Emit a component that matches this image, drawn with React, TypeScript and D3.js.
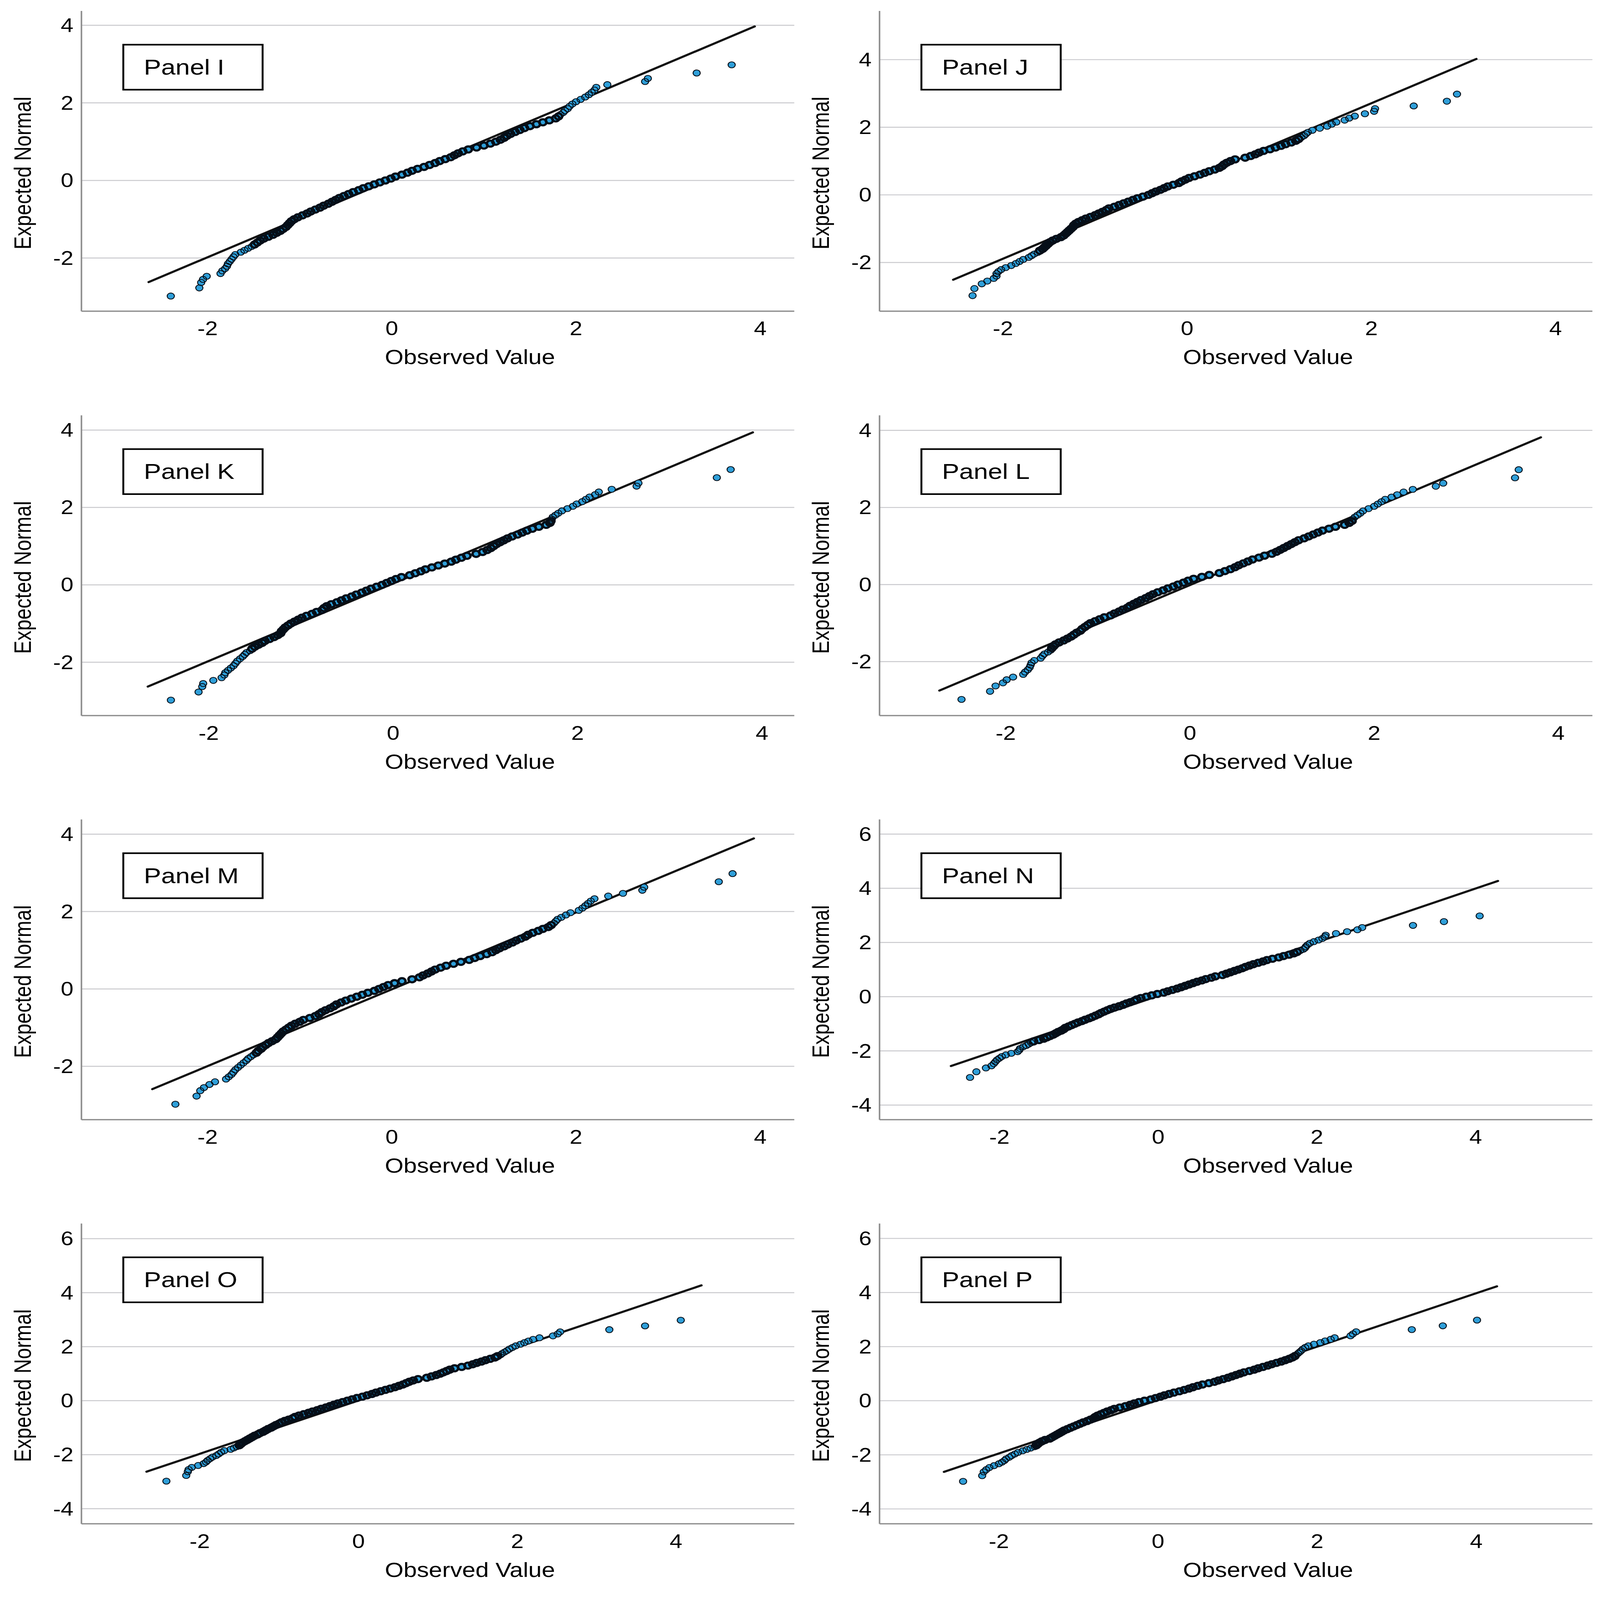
import React, { useEffect } from 'react';
import * as d3 from 'd3';

// Q-Q plots, panels I to P. All panels share the same expected normal quantiles.
const panelNames = ['Panel I', 'Panel J', 'Panel K', 'Panel L', 'Panel M', 'Panel N', 'Panel O', 'Panel P'];

const expectedNormal = [
  -2.98, -2.77, -2.63, -2.55, -2.47, -2.40, -2.33, -2.27, -2.21, -2.15, -2.09, -2.03, -1.97, -1.91, -1.85, -1.80, -1.75, -1.70,
  -1.65, -1.60, -1.55, -1.50, -1.45, -1.40, -1.35, -1.30, -1.25, -1.20, -1.15, -1.10, -1.05, -1.00, -0.95, -0.90, -0.85,
  -0.80, -0.75, -0.70, -0.65, -0.60, -0.55, -0.50, -0.45, -0.40, -0.35, -0.30, -0.25, -0.20, -0.15, -0.10, -0.05,
  0,
  0.05, 0.10, 0.15, 0.20, 0.25, 0.30, 0.35, 0.40, 0.45, 0.50, 0.55, 0.60, 0.65, 0.70, 0.75, 0.80, 0.85,
  0.90, 0.95, 1.00, 1.05, 1.10, 1.15, 1.20, 1.25, 1.30, 1.35, 1.40, 1.45, 1.50, 1.55, 1.60, 1.65,
  1.70, 1.75, 1.80, 1.85, 1.91, 1.97, 2.03, 2.09, 2.15, 2.21, 2.27, 2.33, 2.40, 2.47, 2.55, 2.63, 2.77, 2.98,
];

const observedI = [
  -2.40, -2.09, -2.07, -2.05, -2.01, -1.86, -1.84, -1.81, -1.79, -1.78, -1.76, -1.74, -1.72, -1.70, -1.64, -1.60, -1.56, -1.52,
  -1.49, -1.46, -1.43, -1.39, -1.34, -1.29, -1.25, -1.21, -1.18, -1.15, -1.13, -1.11, -1.09, -1.06, -1.02, -0.97, -0.92,
  -0.88, -0.83, -0.78, -0.74, -0.69, -0.65, -0.61, -0.57, -0.52, -0.47, -0.42, -0.36, -0.31, -0.25, -0.19, -0.13,
  -0.07,
  -0.01, 0.04, 0.11, 0.17, 0.22, 0.28, 0.35, 0.41, 0.47, 0.52, 0.58, 0.64, 0.68, 0.72, 0.77, 0.83, 0.92,
  1.00, 1.07, 1.13, 1.18, 1.22, 1.25, 1.29, 1.34, 1.39, 1.44, 1.50, 1.57, 1.64, 1.71, 1.78, 1.81,
  1.83, 1.86, 1.88, 1.91, 1.93, 1.96, 2.00, 2.05, 2.10, 2.14, 2.17, 2.20, 2.22, 2.34, 2.75, 2.78, 3.31, 3.69,
];

const observedJ = [
  -2.33, -2.31, -2.23, -2.17, -2.10, -2.07, -2.07, -2.05, -2.02, -1.97, -1.91, -1.86, -1.82, -1.78, -1.72, -1.69, -1.66, -1.62,
  -1.60, -1.57, -1.55, -1.53, -1.51, -1.49, -1.46, -1.42, -1.37, -1.34, -1.32, -1.30, -1.28, -1.26, -1.24, -1.23, -1.21,
  -1.18, -1.14, -1.10, -1.05, -1.00, -0.96, -0.92, -0.88, -0.85, -0.79, -0.74, -0.69, -0.64, -0.59, -0.54, -0.48,
  -0.42,
  -0.38, -0.34, -0.29, -0.25, -0.21, -0.15, -0.09, -0.06, -0.02, 0.02, 0.08, 0.14, 0.19, 0.24, 0.30, 0.35, 0.38,
  0.40, 0.43, 0.47, 0.52, 0.63, 0.69, 0.74, 0.78, 0.83, 0.90, 0.96, 1.02, 1.07, 1.13, 1.18, 1.21,
  1.24, 1.27, 1.29, 1.31, 1.36, 1.44, 1.52, 1.57, 1.62, 1.71, 1.76, 1.82, 1.93, 2.03, 2.04, 2.46, 2.82, 2.93,
];

const observedK = [
  -2.41, -2.11, -2.07, -2.06, -1.95, -1.86, -1.83, -1.82, -1.79, -1.76, -1.73, -1.71, -1.69, -1.66, -1.63, -1.61, -1.59, -1.55,
  -1.53, -1.50, -1.46, -1.42, -1.39, -1.34, -1.29, -1.25, -1.22, -1.21, -1.19, -1.17, -1.14, -1.11, -1.07, -1.03, -0.99,
  -0.94, -0.88, -0.83, -0.77, -0.75, -0.72, -0.67, -0.61, -0.56, -0.51, -0.45, -0.40, -0.34, -0.29, -0.24, -0.18,
  -0.12,
  -0.07, -0.02, 0.03, 0.09, 0.18, 0.24, 0.30, 0.35, 0.42, 0.49, 0.56, 0.63, 0.68, 0.74, 0.80, 0.90, 0.97,
  1.02, 1.06, 1.09, 1.12, 1.16, 1.20, 1.24, 1.29, 1.35, 1.40, 1.45, 1.51, 1.58, 1.66, 1.70, 1.71,
  1.72, 1.73, 1.76, 1.79, 1.83, 1.89, 1.95, 1.99, 2.05, 2.09, 2.13, 2.19, 2.23, 2.37, 2.64, 2.66, 3.51, 3.66,
];

const observedL = [
  -2.48, -2.17, -2.11, -2.03, -1.99, -1.92, -1.81, -1.79, -1.76, -1.74, -1.73, -1.72, -1.69, -1.62, -1.60, -1.58, -1.54, -1.51,
  -1.50, -1.48, -1.46, -1.42, -1.37, -1.33, -1.29, -1.26, -1.23, -1.19, -1.17, -1.14, -1.11, -1.08, -1.03, -0.98, -0.93,
  -0.86, -0.82, -0.77, -0.73, -0.68, -0.65, -0.61, -0.57, -0.53, -0.48, -0.44, -0.40, -0.35, -0.29, -0.24, -0.18,
  -0.13,
  -0.07, -0.02, 0.04, 0.13, 0.21, 0.32, 0.38, 0.44, 0.49, 0.53, 0.58, 0.63, 0.68, 0.75, 0.81, 0.89, 0.94,
  0.98, 1.02, 1.06, 1.10, 1.14, 1.18, 1.24, 1.29, 1.34, 1.39, 1.44, 1.51, 1.58, 1.68, 1.73, 1.76,
  1.77, 1.79, 1.82, 1.85, 1.88, 1.94, 2.00, 2.04, 2.08, 2.12, 2.19, 2.25, 2.32, 2.42, 2.67, 2.75, 3.53, 3.57,
];

const observedM = [
  -2.35, -2.12, -2.08, -2.04, -1.98, -1.92, -1.80, -1.77, -1.74, -1.72, -1.70, -1.67, -1.64, -1.61, -1.58, -1.56, -1.53, -1.50,
  -1.47, -1.45, -1.42, -1.40, -1.37, -1.34, -1.30, -1.26, -1.24, -1.22, -1.20, -1.18, -1.15, -1.12, -1.09, -1.05, -1.00,
  -0.96, -0.89, -0.83, -0.79, -0.76, -0.72, -0.67, -0.63, -0.60, -0.55, -0.50, -0.44, -0.38, -0.32, -0.26, -0.19,
  -0.14,
  -0.09, -0.04, 0.03, 0.11, 0.22, 0.30, 0.34, 0.39, 0.43, 0.47, 0.53, 0.59, 0.67, 0.75, 0.84, 0.90, 0.96,
  1.03, 1.09, 1.13, 1.17, 1.22, 1.26, 1.31, 1.35, 1.40, 1.45, 1.48, 1.53, 1.59, 1.64, 1.70, 1.73,
  1.76, 1.78, 1.80, 1.84, 1.89, 1.94, 2.03, 2.07, 2.10, 2.13, 2.16, 2.20, 2.35, 2.51, 2.72, 2.74, 3.55, 3.70,
];

const observedN = [
  -2.37, -2.29, -2.17, -2.10, -2.07, -2.05, -2.03, -2.00, -1.97, -1.92, -1.85, -1.77, -1.75, -1.74, -1.70, -1.66, -1.63, -1.60,
  -1.57, -1.50, -1.44, -1.40, -1.36, -1.32, -1.29, -1.26, -1.22, -1.19, -1.17, -1.13, -1.09, -1.05, -1.01, -0.96, -0.92,
  -0.87, -0.83, -0.79, -0.75, -0.72, -0.68, -0.64, -0.60, -0.55, -0.49, -0.44, -0.40, -0.35, -0.30, -0.27, -0.22,
  -0.15,
  -0.08, -0.01, 0.07, 0.12, 0.18, 0.24, 0.29, 0.34, 0.39, 0.44, 0.49, 0.55, 0.60, 0.67, 0.72, 0.81, 0.86,
  0.91, 0.96, 1.01, 1.06, 1.10, 1.15, 1.20, 1.26, 1.32, 1.37, 1.44, 1.52, 1.58, 1.65, 1.71, 1.75,
  1.79, 1.83, 1.85, 1.86, 1.88, 1.91, 1.96, 2.02, 2.07, 2.10, 2.11, 2.24, 2.38, 2.51, 2.57, 3.21, 3.60, 4.05,
];

const observedO = [
  -2.42, -2.17, -2.15, -2.14, -2.10, -2.02, -1.95, -1.92, -1.90, -1.87, -1.84, -1.79, -1.76, -1.73, -1.69, -1.61, -1.57, -1.53,
  -1.50, -1.48, -1.46, -1.43, -1.40, -1.37, -1.34, -1.31, -1.27, -1.24, -1.20, -1.17, -1.14, -1.10, -1.07, -1.04, -1.00,
  -0.97, -0.93, -0.88, -0.83, -0.80, -0.75, -0.69, -0.63, -0.58, -0.52, -0.47, -0.41, -0.36, -0.31, -0.26, -0.20,
  -0.14,
  -0.08, -0.02, 0.05, 0.11, 0.17, 0.22, 0.28, 0.34, 0.40, 0.46, 0.51, 0.56, 0.60, 0.64, 0.69, 0.75, 0.86,
  0.92, 0.98, 1.03, 1.07, 1.11, 1.15, 1.21, 1.30, 1.38, 1.44, 1.49, 1.55, 1.60, 1.66, 1.72, 1.75,
  1.79, 1.81, 1.84, 1.87, 1.90, 1.94, 1.98, 2.04, 2.09, 2.14, 2.20, 2.28, 2.45, 2.51, 2.54, 3.16, 3.61, 4.06,
];

const observedP = [
  -2.45, -2.21, -2.19, -2.16, -2.12, -2.06, -2.00, -1.96, -1.93, -1.91, -1.87, -1.84, -1.80, -1.76, -1.70, -1.65, -1.60, -1.55,
  -1.53, -1.51, -1.49, -1.46, -1.42, -1.36, -1.33, -1.30, -1.27, -1.24, -1.21, -1.18, -1.14, -1.10, -1.06, -1.02, -0.98,
  -0.94, -0.89, -0.85, -0.81, -0.79, -0.76, -0.72, -0.68, -0.64, -0.59, -0.55, -0.48, -0.41, -0.35, -0.30, -0.24,
  -0.17,
  -0.09, -0.03, 0.03, 0.08, 0.14, 0.20, 0.27, 0.33, 0.39, 0.44, 0.50, 0.56, 0.64, 0.71, 0.76, 0.82, 0.88,
  0.93, 0.98, 1.03, 1.08, 1.15, 1.21, 1.26, 1.32, 1.38, 1.43, 1.49, 1.55, 1.60, 1.65, 1.69, 1.72,
  1.74, 1.76, 1.78, 1.80, 1.82, 1.85, 1.89, 1.96, 2.04, 2.10, 2.17, 2.22, 2.42, 2.45, 2.49, 3.19, 3.58, 4.01,
];

const observedSeries = [observedI, observedJ, observedK, observedL, observedM, observedN, observedO, observedP];

// axis ranges per panel [min, max]
const xDomains = [
  [-3.37, 4.37], [-3.34, 4.40], [-3.38, 4.35], [-3.37, 4.37],
  [-3.37, 4.37], [-3.51, 5.47], [-3.49, 5.49], [-3.50, 5.46],
];
const yDomains = [
  [-3.37, 4.37], [-3.44, 5.44], [-3.38, 4.38], [-3.40, 4.39],
  [-3.38, 4.38], [-4.54, 6.54], [-4.56, 6.56], [-4.55, 6.55],
];

const xTicks = [-2, 0, 2, 4];
const yTicksSmall = [-2, 0, 2, 4];
const yTicksLarge = [-4, -2, 0, 2, 4, 6];
const yTickSets = [yTicksSmall, yTicksSmall, yTicksSmall, yTicksSmall, yTicksSmall, yTicksLarge, yTicksLarge, yTicksLarge];

// reference line ends: [observed1, expected1, observed2, expected2]
const refLines = [
  [-2.64, -2.62, 3.94, 3.97],
  [-2.54, -2.51, 3.14, 4.02],
  [-2.66, -2.63, 3.90, 3.94],
  [-2.72, -2.75, 3.81, 3.82],
  [-2.60, -2.59, 3.93, 3.89],
  [-2.61, -2.56, 4.28, 4.27],
  [-2.67, -2.63, 4.32, 4.27],
  [-2.69, -2.63, 4.26, 4.23],
];

// the middle of the distribution is heavily overplotted in the original,
// so markers there are drawn with a heavy outline
const overplotted = (e: number) => Math.abs(e) < 1.68;

// drawing is laid out in the reference's 4204 x 4977 pixel space, then fitted to the window
const W = 4204;
const H = 4977;
const colX = [214, 2311];
const rowY = [34, 1292, 2549, 3806];
const plotW = 1873;
const plotH = 934;
const font = '"Liberation Sans", Arial, Helvetica, sans-serif';

const QQPanel = ({ idx }: { idx: number }) => {
  const left = colX[idx % 2];
  const top = rowY[Math.floor(idx / 2)];
  const x = d3.scaleLinear().domain(xDomains[idx]).range([left, left + plotW]);
  const y = d3.scaleLinear().domain(yDomains[idx]).range([top + plotH, top]);
  const pts = observedSeries[idx].map((v, i) => [v, expectedNormal[i]] as [number, number]);
  const ln = refLines[idx];
  const linePath = d3.line<number[]>()
    .x((d) => x(d[0]))
    .y((d) => y(d[1]))([[ln[0], ln[1]], [ln[2], ln[3]]]);
  const bottom = top + plotH;

  return (
    <g>
      {yTickSets[idx].map((t) => (
        <line key={'g' + t} x1={left} x2={left + plotW} y1={y(t)} y2={y(t)} stroke="#c9c9cd" strokeWidth={3} />
      ))}
      <line x1={left} x2={left} y1={top} y2={bottom} stroke="#8c8c8c" strokeWidth={4} />
      <line x1={left} x2={left + plotW} y1={bottom} y2={bottom} stroke="#8c8c8c" strokeWidth={4} />
      <path d={linePath || ''} stroke="#111" strokeWidth={6.5} fill="none" strokeLinecap="round" />
      {pts.map((d, i) => (
        <circle key={'f' + i} cx={x(d[0])} cy={y(d[1])} r={9.5} fill="#2f9fd9" />
      ))}
      {pts.map((d, i) => (
        <circle key={'s' + i} cx={x(d[0])} cy={y(d[1])} r={9.5} fill="none"
          stroke="#050e18" strokeWidth={overplotted(d[1]) ? 6.5 : 2.5} />
      ))}
      <rect x={left + 110} y={top + 105} width={366} height={140} fill="#fff" stroke="#000" strokeWidth={5} />
      <text x={left + 164} y={top + 198} fontSize={68} fontFamily={font} fill="#000">{panelNames[idx]}</text>
      {yTickSets[idx].map((t) => (
        <text key={'yl' + t} x={left - 21} y={y(t)} textAnchor="end" dominantBaseline="central"
          fontSize={60} fontFamily={font} fill="#000">{String(t)}</text>
      ))}
      {xTicks.map((t) => (
        <text key={'xl' + t} x={x(t)} y={bottom + 75} textAnchor="middle"
          fontSize={60} fontFamily={font} fill="#000">{String(t)}</text>
      ))}
      <text x={left + plotW * 0.545} y={bottom + 165} textAnchor="middle" fontSize={63} fontFamily={font} fill="#000">
        Observed Value
      </text>
      <text transform={`translate(${left - 133},${top + plotH * 0.54}) rotate(-90)`} textAnchor="middle"
        fontSize={62} fontFamily={font} fill="#000">Expected Normal</text>
    </g>
  );
};

const App = () => {
  useEffect(() => {
    document.body.style.margin = '0';
    document.body.style.overflow = 'hidden';
  }, []);

  return (
    <svg
      viewBox={`0 0 ${W} ${H}`}
      preserveAspectRatio="none"
      style={{ position: 'fixed', left: 0, top: 0, width: '100vw', height: '100vh', display: 'block', background: '#fff' }}
    >
      <rect width={W} height={H} fill="#fff" />
      {panelNames.map((_, i) => <QQPanel key={i} idx={i} />)}
    </svg>
  );
};

export default App;
